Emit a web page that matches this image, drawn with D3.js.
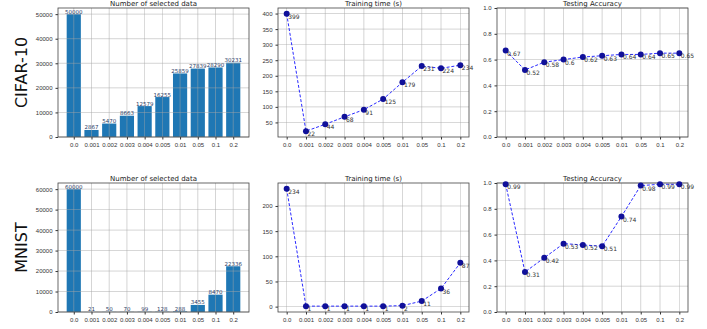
<!DOCTYPE html>
<html>
<head>
<meta charset="utf-8">
<script src="https://cdn.jsdelivr.net/npm/d3@7"></script>
<style>
  body { margin: 0; background: #fff; }
  svg { font-family: "DejaVu Sans", sans-serif; }
  .tick text { fill: #333; font-size: 6px; }
  .tick line { stroke: #333; }
</style>
</head>
<body>
<div id="chart"></div>
<script>
const ratios = ['0.0', '0.001', '0.002', '0.003', '0.004', '0.005', '0.01', '0.05', '0.1', '0.2'];

const cifarCount = [50000, 2867, 5470, 8663, 12579, 16255, 25859, 27839, 28290, 30231];
const cifarTime = [399, 22, 44, 68, 91, 125, 179, 231, 224, 234];
const cifarAcc = [0.67, 0.52, 0.58, 0.6, 0.62, 0.63, 0.64, 0.64, 0.65, 0.65];

const mnistCount = [60000, 21, 50, 70, 99, 128, 288, 3455, 8470, 22336];
const mnistTime = [234, 1, 1, 1, 1, 1, 2, 11, 36, 87];
const mnistAcc = [0.99, 0.31, 0.42, 0.53, 0.52, 0.51, 0.74, 0.98, 0.99, 0.99];

const countTicks = [[0, 10000, 20000, 30000, 40000, 50000], [0, 10000, 20000, 30000, 40000, 50000, 60000]];
const timeTicks = [[50, 100, 150, 200, 250, 300, 350, 400], [0, 50, 100, 150, 200]];
const accTicks = [0, 0.2, 0.4, 0.6, 0.8, 1.0];

const rowNames = ['CIFAR-10', 'MNIST'];
const titles = ['Number of selected data', 'Training time (s)', 'Testing Accuracy'];

const W = 707, H = 329;
const colX = [58, 278, 497];
const pw = 191;
const rowY = [[8, 137], [183, 312]];

const svg = d3.select('#chart').append('svg')
  .attr('width', W).attr('height', H);

function frame(g, w, h, x, y, yTicks, yFmt) {
  const grid = g.append('g').attr('class', 'grid');
  grid.selectAll('line.h')
    .data(yTicks)
    .enter().append('line')
    .attr('class', 'h')
    .attr('x1', 0).attr('x2', w)
    .attr('y1', d => y(d)).attr('y2', d => y(d))
    .attr('stroke', '#a8a8a8').attr('stroke-width', 0.6).attr('opacity', 0.8);
  grid.selectAll('line.v')
    .data(ratios)
    .enter().append('line')
    .attr('class', 'v')
    .attr('x1', (d, i) => x(i)).attr('x2', (d, i) => x(i))
    .attr('y1', 0).attr('y2', h)
    .attr('stroke', '#a8a8a8').attr('stroke-width', 0.6).attr('opacity', 0.8);

  g.append('g')
    .attr('transform', `translate(0,${h})`)
    .call(d3.axisBottom(x).tickValues(d3.range(ratios.length)).tickFormat(i => ratios[i]).tickSize(2.5).tickPadding(3))
    .call(a => a.select('.domain').remove());
  g.append('g')
    .call(d3.axisLeft(y).tickValues(yTicks).tickFormat(yFmt).tickSize(2.5).tickPadding(3))
    .call(a => a.select('.domain').remove());
  g.append('rect')
    .attr('width', w).attr('height', h)
    .attr('fill', 'none').attr('stroke', '#444').attr('stroke-width', 0.8);
}

function drawBars(g, w, h, values, ticks, ymax) {
  const x = d3.scaleLinear().domain([-0.89, 9.89]).range([0, w]);
  const y = d3.scaleLinear().domain([0, ymax]).range([h, 0]);
  const bw = x(0.4) - x(-0.4);
  g.selectAll('rect.bar')
    .data(values)
    .enter().append('rect')
    .attr('class', 'bar')
    .attr('x', (d, i) => x(i) - bw / 2)
    .attr('width', bw)
    .attr('y', d => y(d))
    .attr('height', d => h - y(d))
    .attr('fill', '#1f77b4');
  frame(g, w, h, x, y, ticks, d => d);
  g.selectAll('text.lbl')
    .data(values)
    .enter().append('text')
    .attr('class', 'lbl')
    .attr('x', (d, i) => x(i))
    .attr('y', d => y(d) - 0.5)
    .attr('text-anchor', 'middle')
    .style('font-size', '5.5px')
    .style('fill', '#2a3a66')
    .text(d => d);
}

function drawLine(g, w, h, values, ticks, ydom, fmt) {
  const x = d3.scaleLinear().domain([-0.45, 9.45]).range([0, w]);
  const y = d3.scaleLinear().domain(ydom).range([h, 0]);
  frame(g, w, h, x, y, ticks, fmt);
  const line = d3.line().x((d, i) => x(i)).y(d => y(d));
  g.append('path')
    .datum(values)
    .attr('d', line)
    .attr('fill', 'none')
    .attr('stroke', '#2a2aff')
    .attr('stroke-width', 1)
    .attr('stroke-dasharray', '3,1.8');
  g.selectAll('circle')
    .data(values)
    .enter().append('circle')
    .attr('cx', (d, i) => x(i))
    .attr('cy', d => y(d))
    .attr('r', 3)
    .attr('fill', '#10109a');
  g.selectAll('text.lbl')
    .data(values)
    .enter().append('text')
    .attr('class', 'lbl')
    .attr('x', (d, i) => x(i) + 1.5)
    .attr('y', d => y(d) + 5)
    .style('font-size', '6px')
    .style('fill', '#333')
    .text(d => d);
}

const data = [
  [cifarCount, cifarTime, cifarAcc],
  [mnistCount, mnistTime, mnistAcc]
];

data.forEach((row, r) => {
  const top = rowY[r][0], h = rowY[r][1] - rowY[r][0];
  row.forEach((vals, c) => {
    const g = svg.append('g').attr('transform', `translate(${colX[c]},${top})`);
    if (c === 0) {
      drawBars(g, pw, h, vals, countTicks[r], d3.max(vals) * 1.05);
    } else if (c === 1) {
      const lo = d3.min(vals), hi = d3.max(vals), m = (hi - lo) * 0.05;
      drawLine(g, pw, h, vals, timeTicks[r], [lo - m, hi + m], d => d);
    } else {
      drawLine(g, pw, h, vals, accTicks, [0, 1], d3.format('.1f'));
    }
    g.append('text')
      .attr('x', pw / 2)
      .attr('y', -2)
      .attr('text-anchor', 'middle')
      .style('font-size', '7px')
      .style('fill', '#222')
      .text(titles[c]);
  });
  svg.append('text')
    .attr('transform', `translate(27,${top + h / 2}) rotate(-90)`)
    .attr('text-anchor', 'middle')
    .style('font-size', '16px')
    .style('fill', '#111')
    .text(rowNames[r]);
});
</script>
</body>
</html>
